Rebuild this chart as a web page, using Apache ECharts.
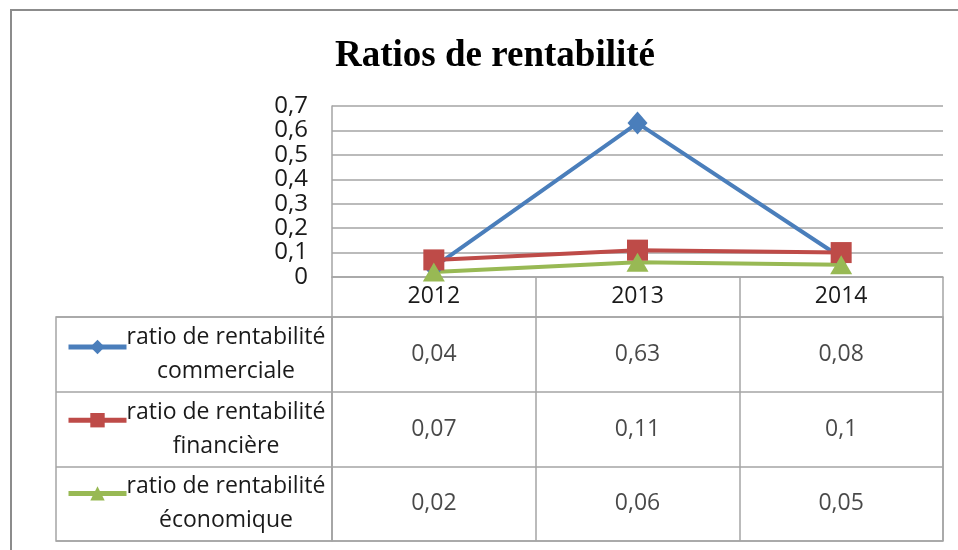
<!DOCTYPE html>
<html style="height: 100%">
<head>
<meta charset="utf-8">
<script src="https://cdn.jsdelivr.net/npm/echarts@6/dist/echarts.min.js"></script>
</head>
<body style="height: 100%; margin: 0; background: #fff">
<div id="container" style="width: 958px; height: 550px"></div>
<script type="text/javascript">
var years = ['2012', '2013', '2014'];
var names = [
    'ratio de rentabilité commerciale',
    'ratio de rentabilité financière',
    'ratio de rentabilité économique'
];
var commerciale = [0.04, 0.63, 0.08];
var financiere = [0.07, 0.11, 0.1];
var economique = [0.02, 0.06, 0.05];
var yTicks = [0, 0.1, 0.2, 0.3, 0.4, 0.5, 0.6, 0.7];

var colors = ['#4a7ebb', '#be4b48', '#98b954'];
var gridGray = '#a5a5a5';
var font = '"Open Sans", "Noto Sans", sans-serif';

function comma(v) {
    return String(v).replace('.', ',');
}

// cells of the data table: [year, series name, value]
var cells = [];
[commerciale, financiere, economique].forEach(function (arr, r) {
    for (var i = 0; i < arr.length; i++) {
        cells.push([years[i], names[r], arr[i]]);
    }
});

var chart = echarts.init(document.getElementById('container'));
var option = {
    backgroundColor: '#fff',
    animation: false,
    title: {
        text: 'Ratios de rentabilité',
        left: 490,
        textAlign: 'center',
        top: 33,
        textStyle: {
            fontFamily: '"Liberation Serif", "DejaVu Serif", serif',
            fontSize: 37,
            fontWeight: 'bold',
            color: '#000'
        }
    },
    graphic: [{
        type: 'polyline',
        shape: { points: [[11, 560], [11, 10], [970, 10]] },
        style: { stroke: '#8c8c8c', lineWidth: 2, fill: null },
        silent: true
    }],
    legend: {
        data: names,
        orient: 'vertical',
        left: 61,
        top: 333,
        itemWidth: 58,
        itemHeight: 18,
        itemGap: 57,
        selectedMode: false,
        lineStyle: { width: 5 },
        formatter: function () { return ''; }
    },
    grid: [
        { left: 332, right: 15, top: 106, height: 171 },
        { left: 332, right: 15, top: 317, height: 224, show: true, borderColor: gridGray, borderWidth: 1.5 },
        { left: 56, width: 276, top: 317, height: 224, show: true, borderColor: gridGray, borderWidth: 1.5 }
    ],
    xAxis: [{
        gridIndex: 0,
        type: 'category',
        data: years,
        boundaryGap: true,
        axisLine: { lineStyle: { color: gridGray, width: 1.5 } },
        axisTick: { show: true, length: 40, lineStyle: { color: gridGray, width: 1.5 } },
        axisLabel: { margin: 8, fontSize: 23, fontFamily: font, color: '#1a1a1a' }
    }, {
        gridIndex: 1,
        type: 'category',
        data: years,
        axisLine: { show: false },
        axisTick: { show: false },
        axisLabel: { show: false },
        splitLine: { show: true, lineStyle: { color: gridGray, width: 1.5 } }
    }, {
        gridIndex: 2,
        type: 'category',
        data: [''],
        show: false
    }],
    yAxis: [{
        gridIndex: 0,
        type: 'value',
        min: 0,
        max: 0.7,
        interval: 0.1,
        axisLine: { show: true, lineStyle: { color: gridGray, width: 1.5 } },
        axisTick: { show: false },
        axisLabel: {
            margin: 24,
            fontSize: 24,
            fontFamily: font,
            color: '#1a1a1a',
            formatter: function (v) {
                var t = yTicks.filter(function (k) { return Math.abs(k - v) < 1e-9; });
                return t.length ? comma(t[0]) : '';
            }
        },
        splitLine: { lineStyle: { color: gridGray, width: 1.5 } }
    }, {
        gridIndex: 1,
        type: 'category',
        data: names,
        inverse: true,
        axisLine: { show: false },
        axisTick: { show: false },
        axisLabel: { show: false },
        splitLine: { show: true, lineStyle: { color: gridGray, width: 1.5 } }
    }, {
        gridIndex: 2,
        type: 'category',
        data: names,
        inverse: true,
        position: 'right',
        axisLine: { show: false },
        axisTick: { show: false },
        splitLine: { show: true, lineStyle: { color: gridGray, width: 1.5 } },
        axisLabel: {
            inside: true,
            margin: 106,
            align: 'center',
            fontSize: 23,
            lineHeight: 34,
            fontFamily: font,
            color: '#1a1a1a',
            formatter: function (v) { return v.replace('rentabilité ', 'rentabilité\n'); }
        }
    }],
    series: [{
        name: names[0],
        type: 'line',
        data: commerciale,
        symbol: 'diamond',
        symbolSize: [20, 23],
        color: colors[0],
        lineStyle: { width: 4 }
    }, {
        name: names[1],
        type: 'line',
        data: financiere,
        symbol: 'rect',
        symbolSize: 21,
        color: colors[1],
        lineStyle: { width: 4 }
    }, {
        name: names[2],
        type: 'line',
        data: economique,
        symbol: 'triangle',
        symbolSize: [22, 19],
        color: colors[2],
        lineStyle: { width: 4 }
    }, {
        name: 'table',
        type: 'scatter',
        xAxisIndex: 1,
        yAxisIndex: 1,
        data: cells,
        symbolSize: 1,
        itemStyle: { color: 'rgba(0,0,0,0)' },
        silent: true,
        label: {
            show: true,
            position: 'inside',
            fontSize: 23,
            fontFamily: font,
            color: '#1a1a1a',
            formatter: function (p) { return comma(p.value[2]); }
        }
    }]
};
chart.setOption(option);
</script>
</body>
</html>
